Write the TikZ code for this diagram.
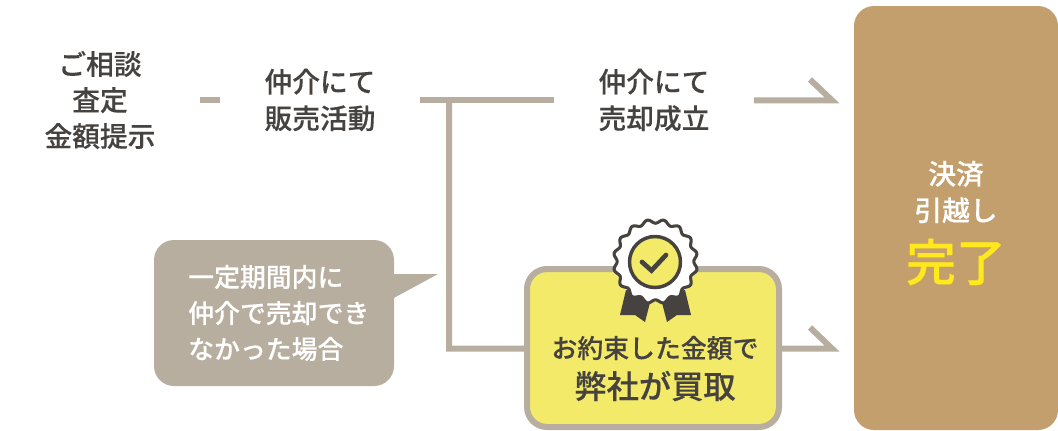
\documentclass[tikz,border=0pt]{standalone}
\usepackage{fontspec}
\setmainfont{Noto Sans CJK JP}
\newfontface\medfont{Noto Sans CJK JP Medium}[FakeBold=0.2]
\definecolor{ink}{HTML}{454240}
\definecolor{stone}{HTML}{B7AE9F}
\definecolor{sand}{HTML}{C49F6E}
\definecolor{lemon}{HTML}{F2EA68}
\definecolor{gold}{HTML}{FFE91C}
\tikzset{
	stepnode/.style={align=center,inner sep=0pt,text=ink,font=\medfont\fontsize{20.8}{27.4}\selectfont},
	noteline/.style={anchor=west,inner sep=0pt,text=white,font=\medfont\fontsize{19.4}{24}\selectfont},
	link/.style={draw=stone,line width=4.5pt,miter limit=10},
}
\begin{document}
\begin{tikzpicture}[x=0.75pt,y=-0.75pt]
		\useasboundingbox (0,0) rectangle (1058,430);
		% goal column
		\fill [sand,rounded corners=15pt] (854,6) rectangle (1058,430);
		\node (settle) [stepnode,text=white] at (956,192) {決済\\引越し};
		\node (done) [inner sep=0pt,text=gold,font=\medfont\fontsize{37.5}{40}\selectfont] at (956,262) {完了};
		% upper row
		\node (consult) [stepnode,font=\medfont\fontsize{20.8}{27}\selectfont] at (100,100) {ご相談\\査定\\金額提示};
		\node (agent) [stepnode] at (320,100) {仲介にて\\販売活動};
		\node (sold) [stepnode] at (654,100) {仲介にて\\売却成立};
		\coordinate (A) at (200,100.3);
		\coordinate (B) at (220,100.3);
		\coordinate (C) at (420,100.3);
		\coordinate (D) at (449,100.3);
		\coordinate (E) at (554,100.3);
		\coordinate (F) at (754,100.3);
		\coordinate (G) at (832,100.3);
		\coordinate (H) at (810,79.5);
		\draw [link] (A) -- (B);
		\draw [link] (C) -- (E);
		\draw [link] (F) -- (G) -- (H);
		% lower branch
		\coordinate (J) at (449,348.5);
		\coordinate (K) at (832,348.5);
		\coordinate (M) at (810,327.5);
		\draw [link] (D) -- (J) -- (K) -- (M);
		\draw [draw=stone,fill=lemon,line width=4.5pt,rounded corners=15pt] (527,269) rectangle (779,427);
		% badge
		\fill [ink] (626,290) -- (620,315) -- (635,315) -- (645,322) -- (652,295) -- cycle;
		\fill [ink] (685,290) -- (691,315) -- (677,315) -- (667,322) -- (660,295) -- cycle;
		\draw [ink,fill=white,line width=2.3pt,samples=321,domain=0:360,smooth] plot ({655.5+(40.2-1.9*cos(16*\x))*cos(\x)},{261.5+(40.2-1.9*cos(16*\x))*sin(\x)}) -- cycle;
		\draw [ink,fill=lemon,line width=2.6pt] (655,262) circle (25.5*0.75pt);
		\draw [ink,line width=3.5pt,line cap=round] (642,262) -- (651.5,270.5) -- (666,255);
		\node (promise) [inner sep=0pt,text=ink,font=\medfont\fontsize{19.4}{24}\selectfont] at (655,348) {お約束した金額で};
		\node (buy) [inner sep=0pt,text=ink,font=\medfont\fontsize{24.2}{28}\selectfont] at (655,386) {弊社が買取};
		% note
		\fill [stone,rounded corners=15pt] (154,240) rectangle (394,386);
		\fill [stone] (392,274) -- (438,274) -- (392,299) -- cycle;
		\node (note1) [noteline] at (188,277) {一定期間内に};
		\node (note2) [noteline] at (188,313) {仲介で売却でき};
		\node (note3) [noteline] at (188,349) {なかった場合};
	\end{tikzpicture}
\end{document}
